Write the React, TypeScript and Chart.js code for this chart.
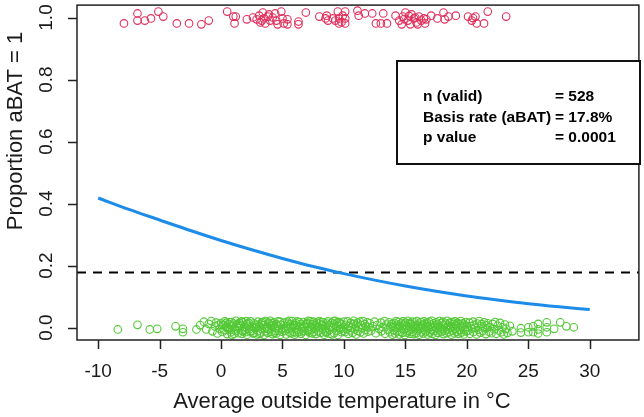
import React, { useEffect, useRef } from "react";
import { Chart, registerables } from "chart.js";

Chart.register(...registerables);

// ---- data ----
const X_MIN = -11.72;
const X_MAX = 34.0;
const Y_MIN = -0.04;
const Y_MAX = 1.04;

const xTicks = [-10, -5, 0, 5, 10, 15, 20, 25, 30];
const yTicks = [0, 0.2, 0.4, 0.6, 0.8, 1.0];
const yTickLabels = ["0.0", "0.2", "0.4", "0.6", "0.8", "1.0"];

const xTitle = "Average outside temperature in °C";
const yTitle = "Proportion aBAT = 1";

const legendLabels = ["n (valid)", "Basis rate (aBAT)", "p value"];
const legendValues = ["= 528", "= 17.8%", "= 0.0001"];

const basisRate = 0.178;

// fitted logistic curve, read at every 2.5 °C
const curveX = [-10, -7.5, -5, -2.5, 0, 2.5, 5, 7.5, 10, 12.5, 15, 17.5, 20, 22.5, 25, 27.5, 30];
const curveY = [0.418, 0.381, 0.347, 0.313, 0.281, 0.251, 0.223, 0.197, 0.174, 0.153, 0.134, 0.117, 0.102, 0.089, 0.077, 0.067, 0.058];

// aBAT = 1 (jittered around 1)
const redPoints: number[][] = [
  [-7.9, 0.981], [-6.8, 1.013], [-6.8, 0.99], [-6.2, 0.99], [-5.7, 0.997], [-5.1, 1.019], [-4.7, 1.003], [-3.6, 0.981],
  [-2.6, 0.981], [-1.6, 0.978], [-1.0, 0.99], [0.5, 1.019], [1.0, 1.003], [1.2, 1.003], [1.1, 0.981], [2.1, 0.994],
  [2.6, 1.0], [2.9, 0.994], [3.1, 1.006], [3.2, 0.984], [3.4, 1.016], [3.5, 0.997], [3.6, 0.981], [3.9, 1.01], [4.0, 0.99],
  [4.4, 1.013], [4.5, 0.99], [4.6, 0.978], [4.9, 1.019], [5.0, 0.997], [5.1, 0.981], [5.4, 0.994], [5.4, 0.978],
  [6.3, 0.987], [6.3, 0.978], [6.9, 1.016], [8.0, 1.003], [8.5, 0.997], [8.6, 1.006], [8.7, 0.99],
  [9.1, 0.997], [9.5, 1.019], [9.6, 0.997], [9.6, 0.981], [10.1, 1.019], [10.1, 0.997], [10.1, 0.981], [9.9, 1.006],
  [11.1, 1.022], [11.2, 1.006], [11.7, 1.013], [12.6, 0.981], [12.3, 1.013], [13.2, 1.013], [13.0, 0.981], [13.5, 0.981],
  [14.2, 1.006], [14.5, 0.99], [14.8, 1.003], [15.0, 1.016], [15.2, 0.99], [15.4, 0.978], [15.7, 0.997], [15.9, 0.984],
  [16.1, 1.003], [16.3, 0.99], [16.6, 0.981], [16.7, 0.994], [14.7, 0.978], [15.5, 1.01], [16.5, 0.997], [17.1, 1.006],
  [17.6, 0.997], [18.1, 1.016], [18.2, 0.994], [18.5, 1.003], [19.1, 1.006], [20.1, 1.003], [20.4, 0.99], [20.7, 1.003],
  [20.8, 0.981], [21.4, 0.981], [21.7, 1.019], [23.2, 1.003],
  [3.3, 0.99], [3.8, 1.003], [4.2, 1.0], [9.3, 0.99], [9.8, 0.985], [14.9, 0.995], [15.3, 1.005], [15.8, 1.0], [16.0, 0.978], [20.5, 0.998],
];

// aBAT = 0 (jittered around 0)
const greenPoints: number[][] = [
  [-8.4, -0.006], [-6.8, 0.009], [-5.8, -0.006], [-5.2, -0.004], [-3.7, 0.004], [-3.1, -0.004], [-3.1, -0.015], [-2.0, -0.006],
  [-1.7, 0.008], [-1.4, 0.019], [-1.2, -0.006], [-1.0, 0.012], [-0.8, 0.021], [-0.7, -0.012], [-0.5, 0.004], [-0.4, 0.016],
  [-0.3, -0.019], [-0.2, 0.009], [-0.1, -0.004], [0.0, 0.014],
  [0.1, -0.014], [0.2, 0.007], [0.3, 0.02], [0.3, -0.008], [0.4, 0.002], [0.5, -0.021], [0.6, 0.011], [0.6, -0.003], [0.7, 0.017], [0.8, -0.015],
  [0.9, 0.005], [0.9, -0.024], [1.0, 0.013], [1.1, -0.006], [1.2, 0.022], [1.2, -0.011], [1.3, 0.003], [1.4, -0.018], [1.5, 0.015], [1.5, -0.002],
  [1.6, 0.009], [1.7, -0.02], [1.8, 0.018], [1.8, -0.009], [1.9, 0.001], [2.0, -0.015], [2.1, 0.012], [2.1, -0.023], [2.2, 0.006], [2.3, -0.005],
  [2.4, 0.02], [2.4, -0.013], [2.5, 0.003], [2.6, -0.019], [2.7, 0.014], [2.7, -0.001], [2.8, 0.01], [2.9, -0.022], [3.0, 0.019], [3.0, -0.01],
  [3.1, 0.004], [3.2, -0.016], [3.3, 0.016], [3.3, -0.004], [3.4, 0.008], [3.5, -0.024], [3.6, 0.021], [3.6, -0.012], [3.7, 0.002], [3.8, -0.017],
  [3.9, 0.013], [3.9, -0.006], [4.0, 0.022], [4.1, -0.014], [4.2, 0.007], [4.2, -0.021], [4.3, 0.017], [4.4, -0.002], [4.5, 0.011], [4.5, -0.019],
  [4.6, 0.004], [4.7, -0.009], [4.8, 0.019], [4.8, -0.024], [4.9, 0.009], [5.0, -0.005],
  [0.15, 0.01], [0.45, 0.016], [0.75, -0.007], [1.05, -0.02], [1.35, 0.012], [1.65, 0.02], [1.95, -0.008], [2.25, 0.015], [2.55, -0.01],
  [2.85, 0.002], [3.15, -0.021], [3.45, 0.018], [3.75, -0.003], [4.05, 0.006], [4.35, -0.016], [4.65, 0.02], [4.95, -0.013], [0.55, 0.0],
  [1.45, 0.005], [2.05, 0.021], [2.65, -0.017], [3.25, 0.011], [3.85, 0.016], [4.45, -0.011], [0.85, 0.018], [1.75, -0.012], [2.95, 0.007],
  [3.55, -0.003], [4.15, 0.014],
  [5.1, 0.016], [5.2, -0.011], [5.3, 0.004], [5.3, -0.022], [5.4, 0.019], [5.5, -0.004], [5.6, 0.01], [5.6, -0.017], [5.7, 0.001], [5.8, 0.021],
  [5.9, -0.013], [5.9, 0.007], [6.0, -0.023], [6.1, 0.014], [6.2, -0.006], [6.2, 0.02], [6.3, -0.015], [6.4, 0.003], [6.5, -0.02], [6.5, 0.012],
  [6.6, -0.002], [6.7, 0.018], [6.8, -0.01], [6.8, 0.006], [6.9, -0.024], [7.0, 0.015], [7.1, -0.007], [7.1, 0.022], [7.2, -0.016], [7.3, 0.002],
  [7.4, 0.011], [7.4, -0.019], [7.5, 0.019], [7.6, -0.003], [7.7, 0.008], [7.7, -0.021], [7.8, 0.016], [7.9, -0.012], [8.0, 0.0], [8.0, 0.021],
  [8.1, -0.017], [8.2, 0.009], [8.3, -0.005], [8.3, 0.017], [8.4, -0.023], [8.5, 0.005], [8.6, 0.013], [8.6, -0.014], [8.7, 0.02], [8.8, -0.008],
  [8.9, 0.003], [8.9, -0.02], [9.0, 0.015], [9.1, -0.001], [9.2, 0.01], [9.2, -0.018], [9.3, 0.022], [9.4, -0.011], [9.5, 0.006], [9.5, -0.024],
  [9.6, 0.018], [9.7, -0.006], [9.8, 0.012], [9.8, -0.015], [9.9, 0.001], [10.0, 0.019],
  [5.15, -0.001], [5.45, 0.013], [5.75, -0.019], [6.05, 0.008], [6.35, 0.017], [6.65, -0.012], [6.95, 0.011], [7.25, 0.02], [7.55, -0.014],
  [7.85, 0.004], [8.15, 0.018], [8.45, -0.009], [8.75, 0.007], [9.05, -0.022], [9.35, 0.004], [9.65, 0.014], [9.95, -0.01], [5.55, 0.022],
  [6.15, -0.018], [6.75, 0.001], [7.35, -0.006], [7.95, 0.013], [8.55, -0.016], [9.15, 0.021], [9.75, -0.003], [5.85, 0.01], [7.05, -0.011],
  [8.25, 0.009], [9.45, 0.016],
  [10.1, -0.014], [10.15, 0.009], [10.2, -0.004], [10.3, 0.02], [10.35, -0.02], [10.4, 0.005], [10.5, -0.009], [10.55, 0.015], [10.6, 0.0],
  [10.7, -0.017], [10.75, 0.012], [10.8, 0.022], [10.9, -0.006], [10.95, 0.007], [11.0, -0.022], [11.1, 0.016], [11.15, -0.011], [11.2, 0.003],
  [11.3, 0.019], [11.35, -0.015], [11.4, 0.008], [11.5, -0.002], [11.55, 0.021], [11.6, -0.019], [11.7, 0.011], [11.75, -0.007], [11.8, 0.004],
  [11.9, 0.017], [11.95, -0.013], [12.0, 0.001],
  [12.1, 0.014], [12.2, -0.01], [12.35, 0.004], [12.5, 0.019], [12.6, -0.018], [12.7, 0.008], [12.85, -0.004], [13.0, 0.016], [13.05, -0.012],
  [13.15, 0.002], [13.3, 0.021], [13.35, -0.02], [13.45, 0.01], [13.55, -0.007], [13.65, 0.017], [13.75, -0.015], [13.8, 0.003], [13.9, 0.012],
  [13.95, -0.023], [14.0, 0.006],
  [14.05, -0.008], [14.1, 0.015], [14.15, -0.019], [14.2, 0.003], [14.25, 0.021], [14.3, -0.012], [14.35, 0.009], [14.4, -0.002], [14.45, 0.018], [14.5, -0.022],
  [14.55, 0.006], [14.6, -0.014], [14.65, 0.013], [14.75, -0.017], [14.8, 0.02], [14.85, -0.006], [14.9, 0.01], [14.95, -0.024], [15.0, 0.016],
  [15.05, -0.003], [15.1, 0.007], [15.15, -0.016], [15.2, 0.022], [15.25, -0.01], [15.3, 0.002], [15.35, 0.014], [15.4, -0.02], [15.45, 0.011], [15.5, -0.005],
  [15.55, 0.019], [15.6, -0.013], [15.65, 0.005], [15.7, -0.021], [15.75, 0.017], [15.8, -0.001], [15.85, 0.009], [15.9, -0.018], [15.95, 0.021], [16.0, -0.009],
  [16.05, 0.004], [16.1, -0.023], [16.15, 0.013], [16.2, -0.004], [16.25, 0.018], [16.3, -0.015], [16.35, 0.008], [16.4, 0.0], [16.45, -0.019], [16.5, 0.02],
  [16.55, -0.007], [16.6, 0.011], [16.65, -0.012], [16.7, 0.003], [16.75, 0.016], [16.8, -0.022], [16.85, 0.006], [16.9, -0.003], [16.95, 0.019], [17.0, -0.016],
  [17.05, 0.01], [17.1, -0.008], [17.15, 0.022], [17.2, -0.02], [17.25, 0.002], [17.3, 0.014], [17.35, -0.011], [17.4, 0.007], [17.45, -0.024], [17.5, 0.017],
  [17.55, -0.002], [17.6, 0.012], [17.65, -0.017], [17.7, 0.004], [17.75, 0.021], [17.8, -0.009], [17.85, 0.001], [17.9, -0.014], [17.95, 0.015], [18.0, -0.005],
  [18.05, 0.019], [18.1, -0.021], [18.15, 0.008], [18.2, -0.01], [18.25, 0.013], [18.3, 0.001], [18.35, -0.018], [18.4, 0.022], [18.45, -0.006], [18.5, 0.009],
  [18.55, -0.015], [18.6, 0.016], [18.65, -0.001], [18.7, 0.005], [18.75, -0.023], [18.8, 0.018], [18.85, -0.011], [18.9, 0.003], [18.95, 0.012], [19.0, -0.019],
  [19.05, 0.02], [19.1, -0.004], [19.15, 0.007], [19.2, -0.013], [19.25, 0.015], [19.3, -0.02], [19.4, 0.011], [19.45, -0.008], [19.5, 0.021],
  [19.55, -0.016], [19.6, 0.006], [19.65, -0.002], [19.7, 0.014], [19.75, -0.022], [19.8, 0.01], [19.85, -0.007], [19.9, 0.018], [19.95, -0.012], [20.0, 0.003],
  [20.1, -0.01], [20.2, 0.016], [20.25, -0.02], [20.3, 0.005], [20.4, -0.003], [20.5, 0.019], [20.55, -0.014], [20.6, 0.009], [20.7, 0.0], [20.8, -0.022],
  [20.85, 0.013], [20.9, -0.007], [21.0, 0.021], [21.1, -0.016], [21.15, 0.004], [21.2, 0.011], [21.3, -0.011], [21.4, 0.017], [21.5, -0.002], [21.55, -0.021],
  [21.6, 0.007], [21.7, 0.014], [21.8, -0.013], [21.9, 0.002], [22.0, -0.018], [22.1, 0.012], [22.2, -0.005], [22.3, 0.018], [22.4, -0.02], [22.5, 0.006],
  [22.6, -0.009], [22.7, 0.015], [22.8, -0.015], [22.9, 0.001], [23.0, -0.022], [23.1, 0.01], [23.2, -0.004], [23.3, -0.017], [23.5, 0.006], [23.7, -0.012],
  [24.4, -0.002], [24.4, -0.016], [25.0, 0.001], [25.0, -0.015], [25.4, 0.004], [25.4, -0.015], [25.8, 0.012], [25.8, -0.006], [25.8, -0.019],
  [26.5, 0.017], [26.5, 0.001], [26.5, -0.015], [27.1, -0.004], [27.6, 0.017], [28.1, 0.004], [28.7, 0.001],
];

// ---- styles ----
const FONT = '"Liberation Sans", Arial, Helvetica, sans-serif';
const RED = "#E0305C";
const GREEN = "#52C935";
const BLUE = "#1C8CE8";

const toXY = (arr: number[][]) => arr.map(([x, y]) => ({ x, y }));

const axesPlugin = {
  id: "rAxes",
  afterDraw(chart: any) {
    const { ctx, chartArea, scales } = chart;
    const { left, right, top, bottom } = chartArea;
    const xs = scales.x;
    const ys = scales.y;
    ctx.save();
    // box
    ctx.strokeStyle = "#222";
    ctx.lineWidth = 1.5;
    ctx.strokeRect(left, top, right - left, bottom - top);

    // ticks
    ctx.fillStyle = "#1a1a1a";
    ctx.font = `19px ${FONT}`;
    ctx.textAlign = "center";
    ctx.textBaseline = "middle";
    ctx.beginPath();
    xTicks.forEach((v) => {
      const px = Math.round(xs.getPixelForValue(v)) + 0.5;
      ctx.moveTo(px, bottom);
      ctx.lineTo(px, bottom + 9);
    });
    yTicks.forEach((v) => {
      const py = Math.round(ys.getPixelForValue(v)) + 0.5;
      ctx.moveTo(left - 9, py);
      ctx.lineTo(left, py);
    });
    ctx.stroke();
    xTicks.forEach((v) => {
      const px = xs.getPixelForValue(v);
      ctx.fillText(String(v), px, 372);
    });
    yTicks.forEach((v, i) => {
      const py = ys.getPixelForValue(v);
      ctx.save();
      ctx.translate(47, py);
      ctx.rotate(-Math.PI / 2);
      ctx.fillText(yTickLabels[i], 0, 0);
      ctx.restore();
    });

    // titles
    ctx.font = `22px ${FONT}`;
    ctx.fillText(xTitle, 342, 402);
    ctx.save();
    ctx.translate(16, 131);
    ctx.rotate(-Math.PI / 2);
    ctx.fillText(yTitle, 0, 0);
    ctx.restore();

    // legend box
    ctx.fillStyle = "#fff";
    ctx.fillRect(397, 61, 243, 103);
    ctx.strokeStyle = "#111";
    ctx.lineWidth = 2;
    ctx.strokeRect(397, 61, 243, 103);
    ctx.fillStyle = "#000";
    ctx.font = `bold 15.5px ${FONT}`;
    ctx.textAlign = "left";
    legendLabels.forEach((t, i) => {
      const y = 97 + i * 20.5;
      ctx.fillText(t, 423, y);
      ctx.fillText(legendValues[i], 555, y);
    });
    ctx.restore();
  },
};

export default function App() {
  const ref = useRef<HTMLCanvasElement | null>(null);
  useEffect(() => {
    if (!ref.current) return;
    const chart = new Chart(ref.current, {
      type: "scatter",
      data: {
        datasets: [
          {
            type: "line",
            data: curveX.map((x, i) => ({ x, y: curveY[i] })),
            borderColor: BLUE,
            borderWidth: 3,
            pointRadius: 0,
            tension: 0.4,
            cubicInterpolationMode: "monotone",
            fill: false,
            order: 0,
          } as any,
          {
            type: "line",
            data: [
              { x: X_MIN, y: basisRate },
              { x: X_MAX, y: basisRate },
            ],
            borderColor: "#000",
            borderWidth: 2,
            borderDash: [9, 7],
            pointRadius: 0,
            fill: false,
            order: 1,
          } as any,
          {
            data: toXY(redPoints),
            borderColor: RED,
            backgroundColor: "rgba(0,0,0,0)",
            borderWidth: 1.1,
            pointRadius: 3.8,
            order: 2,
          },
          {
            data: toXY(greenPoints),
            borderColor: GREEN,
            backgroundColor: "rgba(0,0,0,0)",
            borderWidth: 1.1,
            pointRadius: 3.8,
            order: 3,
          },
        ],
      },
      options: {
        animation: false,
        responsive: false,
        devicePixelRatio: 1,
        layout: { padding: { left: 77, right: 4, top: 3, bottom: 77 } },
        plugins: { legend: { display: false }, tooltip: { enabled: false } },
        events: [],
        scales: {
          x: { type: "linear", min: X_MIN, max: X_MAX, display: false },
          y: { type: "linear", min: Y_MIN, max: Y_MAX, display: false },
        },
      },
      plugins: [axesPlugin],
    });
    return () => chart.destroy();
  }, []);
  return (
    <div style={{ position: "fixed", left: 0, top: 0, width: 644, height: 417, background: "#fff" }}>
      <canvas ref={ref} width={644} height={417} style={{ width: 644, height: 417, display: "block" }} />
    </div>
  );
}
